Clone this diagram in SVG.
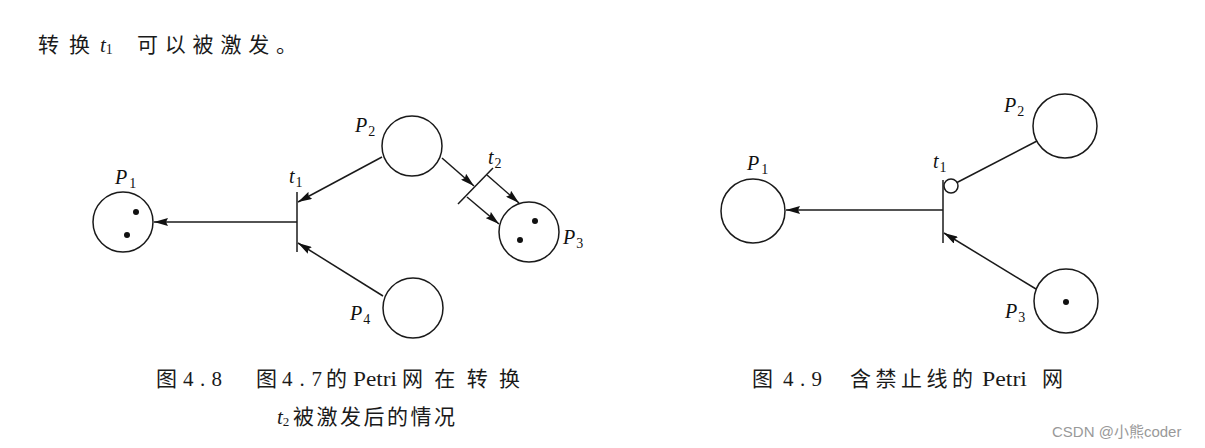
<svg xmlns="http://www.w3.org/2000/svg" width="1205" height="448" viewBox="0 0 1205 448">
<style>
.pl{fill:none;stroke:#1a1a1a;stroke-width:1.5}
.ln{fill:none;stroke:#1a1a1a;stroke-width:1.5}
.dot{fill:#111}
.lab{font-family:"Liberation Serif",serif;font-style:italic;font-size:20px;fill:#111}
.sub{font-style:normal;font-size:14px}
.cjk{font-family:"Liberation Serif","Noto Sans CJK SC",serif;fill:#1a1a1a;font-size:21px}
.wm{font-family:"Liberation Sans","Noto Sans CJK SC",sans-serif;font-size:15px;fill:#999}
</style>
<defs>
<marker id="ah" markerUnits="userSpaceOnUse" markerWidth="14" markerHeight="8" refX="14" refY="4" orient="auto">
<path d="M0,0 L14,4 L0,8 L2,4 z" fill="#111"/>
</marker>
</defs>
<rect width="1205" height="448" fill="#fff"/>

<g id="intro" class="cjk" font-size="23">
<text x="38" y="52" textLength="52" lengthAdjust="spacing">转换</text>
<text x="100" y="52" font-style="italic">t<tspan font-style="normal" font-size="14" dy="2">1</tspan></text>
<text x="137" y="52" textLength="160" lengthAdjust="spacing">可以被激发。</text>
</g>

<!-- Left net -->
<g id="L_P1"><circle class="pl" cx="123" cy="222" r="30"/><circle class="dot" cx="136" cy="212" r="3"/><circle class="dot" cx="127" cy="235" r="3"/><text class="lab" x="115" y="184">P<tspan class="sub" dx="2" dy="4">1</tspan></text></g>
<g id="L_P2"><circle class="pl" cx="412" cy="146" r="30"/><text class="lab" x="355" y="132">P<tspan class="sub" dx="1" dy="4">2</tspan></text></g>
<g id="L_P3"><circle class="pl" cx="529" cy="232" r="30"/><circle class="dot" cx="535" cy="221" r="3"/><circle class="dot" cx="520" cy="240" r="3"/><text class="lab" x="563" y="244">P<tspan class="sub" dx="1" dy="4">3</tspan></text></g>
<g id="L_P4"><circle class="pl" cx="413" cy="308" r="30"/><text class="lab" x="350" y="320">P<tspan class="sub" dx="1" dy="4">4</tspan></text></g>
<g id="L_t1"><line class="ln" x1="297" y1="192" x2="297" y2="252"/><text class="lab" x="289" y="183">t<tspan class="sub" dx="1" dy="4">1</tspan></text></g>
<g id="L_t2"><line class="ln" x1="458" y1="204" x2="493" y2="168"/><text class="lab" x="488" y="164">t<tspan class="sub" dx="1" dy="4">2</tspan></text></g>

<!-- Right net -->
<g id="R_P1"><circle class="pl" cx="753" cy="211" r="32"/><text class="lab" x="747" y="170">P<tspan class="sub" dx="2" dy="4">1</tspan></text></g>
<g id="R_P2"><circle class="pl" cx="1065" cy="126" r="32"/><text class="lab" x="1004" y="112">P<tspan class="sub" dx="1" dy="4">2</tspan></text></g>
<g id="R_P3"><circle class="pl" cx="1066" cy="301" r="32"/><circle class="dot" cx="1066" cy="302" r="3"/><text class="lab" x="1005" y="318">P<tspan class="sub" dx="1" dy="4">3</tspan></text></g>
<g id="R_t1"><line class="ln" x1="943" y1="180" x2="943" y2="243"/><text class="lab" x="933" y="168">t<tspan class="sub" dx="1" dy="4">1</tspan></text></g>

<g id="connectors">
<line class="ln" x1="297" y1="222" x2="154" y2="222" marker-end="url(#ah)"/>
<line class="ln" x1="382" y1="157" x2="298" y2="202" marker-end="url(#ah)"/>
<line class="ln" x1="383" y1="296" x2="298" y2="243" marker-end="url(#ah)"/>
<line class="ln" x1="442" y1="158" x2="474" y2="186" marker-end="url(#ah)"/>
<line class="ln" x1="487" y1="175" x2="519" y2="203" marker-end="url(#ah)"/>
<line class="ln" x1="467" y1="197" x2="499" y2="224" marker-end="url(#ah)"/>
<line class="ln" x1="943" y1="210" x2="786" y2="210" marker-end="url(#ah)"/>
<line class="ln" x1="1036" y1="289" x2="944" y2="233" marker-end="url(#ah)"/>
<line class="ln" x1="1037" y1="141" x2="957" y2="182.5"/>
<circle class="pl" cx="951" cy="186" r="7"/>
</g>

<!-- captions -->
<g id="cap48" class="cjk">
<text x="156" y="386">图</text>
<text x="183" y="386" textLength="39" lengthAdjust="spacing">4.8</text>
<text x="256" y="386">图</text>
<text x="282" y="386" textLength="40" lengthAdjust="spacing">4.7</text>
<text x="326" y="386">的</text>
<text x="353" y="386" textLength="44" lengthAdjust="spacingAndGlyphs">Petri</text>
<text x="402" y="386" textLength="118" lengthAdjust="spacing">网在转换</text>
<text x="277" y="424" font-style="italic">t<tspan font-style="normal" font-size="13" dy="2">2</tspan></text>
<text x="293" y="424" textLength="162" lengthAdjust="spacing">被激发后的情况</text>
</g>
<g id="cap49" class="cjk">
<text x="752" y="386">图</text>
<text x="783" y="386" textLength="39" lengthAdjust="spacing">4.9</text>
<text x="850" y="386" textLength="123" lengthAdjust="spacing">含禁止线的</text>
<text x="982" y="386" textLength="45" lengthAdjust="spacingAndGlyphs">Petri</text>
<text x="1042" y="386">网</text>
</g>
<text class="wm" x="1052" y="437">CSDN @小熊coder</text>
</svg>
